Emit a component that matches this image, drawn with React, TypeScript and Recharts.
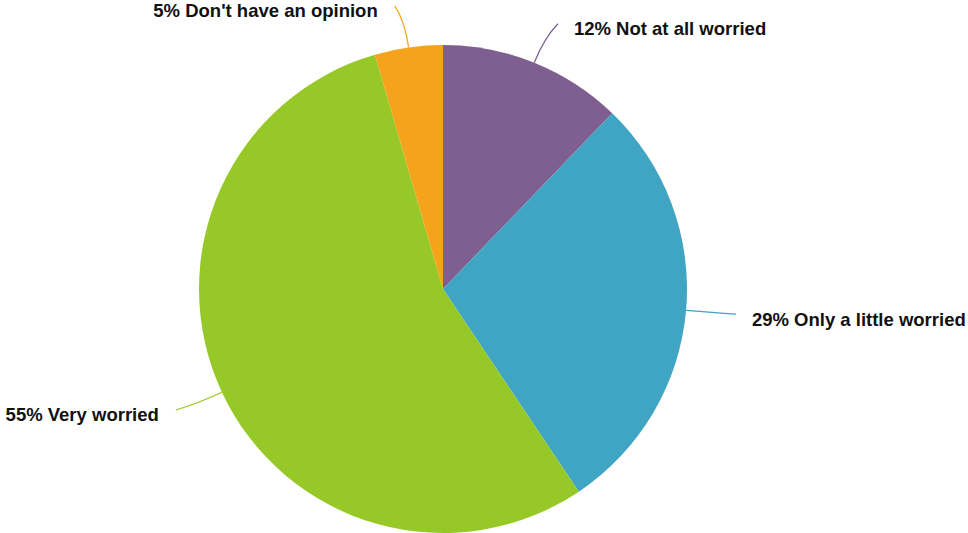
import React from "react";
import { PieChart, Pie, Cell } from "recharts";

const categories = ["Not at all worried", "Only a little worried", "Very worried", "Don't have an opinion"];
const values = [12.2, 28.4, 54.9, 4.5];
const shownPercents = ["12%", "29%", "55%", "5%"];
const colors = ["#7E5F8F", "#40A4C3", "#96C927", "#F5A31B"];

const data = categories.map((name, i) => ({ name, value: values[i], pct: shownPercents[i] }));

const RADIAN = Math.PI / 180;

const renderLabel = (props: any) => {
  const { cx, cy, midAngle, outerRadius, index } = props;
  const cos = Math.cos(-midAngle * RADIAN);
  const sin = Math.sin(-midAngle * RADIAN);
  const sx = cx + outerRadius * cos;
  const sy = cy + outerRadius * sin;
  const mx = cx + (outerRadius + 27) * cos;
  const my = cy + (outerRadius + 27) * sin;
  const right = cos >= 0;
  const ex = cx + (outerRadius + 42) * cos + (right ? 8 : -8);
  const ey = cy + (outerRadius + 42) * sin;
  const tx = ex + (right ? 16 : -17);
  const ty = ey + 5;
  return (
    <g key={`lbl-${index}`}>
      <path d={`M${sx},${sy} Q${mx},${my} ${ex},${ey}`} stroke={colors[index]} strokeWidth={1.2} fill="none" />
      <text
        x={tx}
        y={ty}
        textAnchor={right ? "start" : "end"}
        dominantBaseline="central"
        fill="#111"
        style={{ fontFamily: "'Liberation Sans', Arial, sans-serif", fontWeight: 700, fontSize: 18.5 }}
      >
        {`${data[index].pct} ${data[index].name}`}
      </text>
    </g>
  );
};

export default function App() {
  return (
    <div style={{ position: "absolute", left: 0, top: 0, width: 968, height: 533, background: "#fff" }}>
      <PieChart width={968} height={533} margin={{ top: 0, right: 0, bottom: 0, left: 0 }}>
        <Pie
          data={data}
          dataKey="value"
          nameKey="name"
          cx={443}
          cy={289}
          outerRadius={244}
          startAngle={90}
          endAngle={-270}
          stroke="none"
          label={renderLabel}
          labelLine={false}
          isAnimationActive={false}
        >
          {data.map((d, i) => (
            <Cell key={d.name} fill={colors[i]} />
          ))}
        </Pie>
      </PieChart>
    </div>
  );
}
